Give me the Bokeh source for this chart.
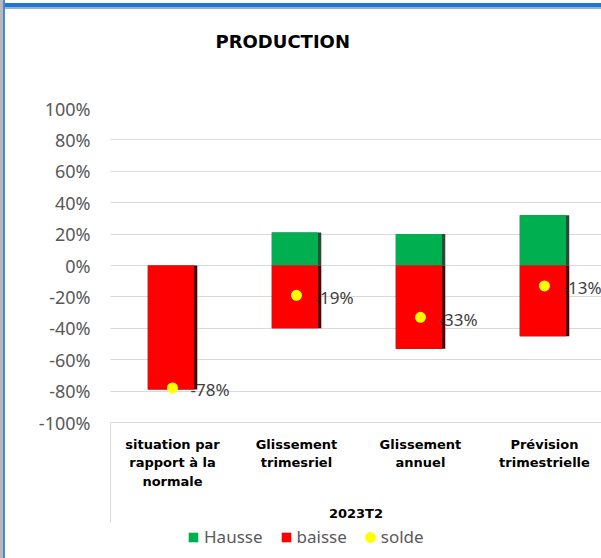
import numpy as np
from bokeh.plotting import figure
from bokeh.layouts import column
from bokeh.models import (Range1d, FixedTicker, PrintfTickFormatter, ColumnDataSource,
                          Legend, LegendItem, Title)
from bokeh.transform import dodge
from bokeh.core.properties import value
from bokeh.embed import file_html
from bokeh.resources import INLINE

# ---- data ----
categories = ["situation par\nrapport à la\nnormale", "Glissement\ntrimesriel",
              "Glissement\nannuel", "Prévision\ntrimestrielle"]
hausse = [0, 21, 20, 32]
baisse = [-79, -40, -53, -45]
solde = [-78, -19, -33, -13]
y_ticks = [-100, -80, -60, -40, -20, 0, 20, 40, 60, 80, 100]
group_label = "2023T2"
chart_title = "PRODUCTION"
series_names = ["Hausse", "baisse", "solde"]

GREEN, RED, YELLOW = "#00B050", "#FF0000", "#FFFF00"

n = len(categories)
xpos = [i + 0.5 for i in range(n)]
src = ColumnDataSource(dict(
    x=xpos, hausse=hausse, baisse=baisse, solde=solde, zero=[0] * n,
    lbl=[f"{v}%" for v in solde],
))

p = figure(width=601, height=524, output_backend="svg", toolbar_location=None,
           x_range=Range1d(0, 3.96), y_range=Range1d(-100, 100),
           min_border_left=110, min_border_right=0, min_border_top=108,
           min_border_bottom=100)
p.outline_line_color = None
p.background_fill_color = "white"
p.border_fill_color = None

# title (with a blank spacer title between it and the plot area)
p.title.text = chart_title
p.title.text_font = "DejaVu Sans"
p.title.text_font_style = "bold"
p.title.text_font_size = "18px"
p.title.text_color = "black"
p.title.align = "left"
p.title.offset = 105
p.title.standoff = 0
spacer = Title(text=" ", text_font_size="18px", standoff=35)
p.add_layout(spacer, "above")

# grid
p.xgrid.visible = False
p.ygrid.ticker = FixedTicker(ticks=y_ticks)
p.ygrid.grid_line_color = "#D9D9D9"
p.ygrid.grid_line_width = 1

# y axis
p.yaxis.ticker = FixedTicker(ticks=y_ticks)
p.yaxis.formatter = PrintfTickFormatter(format="%d%%")
p.yaxis.axis_line_color = None
p.yaxis.major_tick_line_color = None
p.yaxis.minor_tick_line_color = None
p.yaxis.major_tick_out = 0
p.yaxis.minor_tick_out = 0
p.yaxis.major_label_standoff = 20
p.yaxis.major_label_text_font = "Noto Sans"
p.yaxis.major_label_text_font_size = "18px"
p.yaxis.major_label_text_color = "#595959"

# x axis (categories)
p.xaxis.ticker = FixedTicker(ticks=xpos, minor_ticks=[0, 4])
p.xaxis.major_label_overrides = {xv: c for xv, c in zip(xpos, categories)}
p.xaxis.axis_line_color = "#D9D9D9"
p.xaxis.major_tick_line_color = None
p.xaxis.minor_tick_line_color = "#D9D9D9"
p.xaxis.minor_tick_in = 0
p.xaxis.minor_tick_out = 100
p.xaxis.major_label_standoff = -86
p.xaxis.major_label_text_font = "DejaVu Sans"
p.xaxis.major_label_text_font_style = "bold"
p.xaxis.major_label_text_font_size = "13px"
p.xaxis.major_label_text_line_height = 1.25
p.xaxis.major_label_text_color = "black"
p.xaxis.axis_label = group_label
p.xaxis.axis_label_text_font = "DejaVu Sans"
p.xaxis.axis_label_text_font_style = "bold"
p.xaxis.axis_label_text_font_size = "13px"
p.xaxis.axis_label_text_color = "black"
p.xaxis.axis_label_standoff = 14

# bars: shadow edge then main fill
p.vbar(x="x", top="hausse", bottom="zero", width=0.4, source=src,
       fill_color="#2b4a36", line_color=None)
p.vbar(x="x", top="zero", bottom="baisse", width=0.4, source=src,
       fill_color="#4a0000", line_color=None)
p.vbar(x=dodge("x", -0.012, range=p.x_range), top="hausse", bottom="zero",
       width=0.372, source=src, fill_color=GREEN, line_color=None)
p.vbar(x=dodge("x", -0.012, range=p.x_range), top="zero", bottom="baisse",
       width=0.372, source=src, fill_color=RED, line_color=None)

p.scatter(x="x", y="solde", source=src, size=5, marker="circle",
          fill_color=YELLOW, line_color=YELLOW, line_width=6)
p.text(x="x", y="solde", text="lbl", source=src, x_offset=18, y_offset=2,
       text_align="left", text_baseline="middle", text_font=value("Noto Sans"),
       text_font_size="17px", text_color="#404040")

# legend strip (separate small figure, swatch glyphs only, nothing plotted)
p2 = figure(width=601, height=34, output_backend="svg", toolbar_location=None,
            x_axis_type=None, y_axis_type=None,
            min_border_left=0, min_border_right=0, min_border_top=0, min_border_bottom=0)
p2.outline_line_color = None
p2.grid.visible = False
p2.border_fill_color = None
p2.background_fill_color = None
empty = ColumnDataSource(dict(x=np.array([np.nan]), y=np.array([np.nan]),
                              top=np.array([np.nan])))
s_h = p2.vbar(x="x", top="top", width=1, source=empty, fill_color=GREEN, line_color=None)
s_b = p2.vbar(x="x", top="top", width=1, source=empty, fill_color=RED, line_color=None)
s_s = p2.scatter(x="x", y="y", source=empty, size=5, marker="circle",
                 fill_color=YELLOW, line_color=YELLOW, line_width=6)
leg = Legend(items=[LegendItem(label=series_names[0], renderers=[s_h]),
                    LegendItem(label=series_names[1], renderers=[s_b]),
                    LegendItem(label=series_names[2], renderers=[s_s])],
             orientation="horizontal", location=(77, 10),
             glyph_width=12, glyph_height=12, label_standoff=5, spacing=17,
             padding=0, margin=0, border_line_color=None, background_fill_alpha=0,
             label_text_font="Noto Sans", label_text_font_size="17px",
             label_text_color="#595959")
p2.add_layout(leg)

layout = column(p, p2, spacing=0, styles={
    "background-color": "white",
    "box-shadow": ("inset 3px 0 0 #b8b8b8, inset 5px 0 0 #4d84d4, "
                   "inset 0 3px 0 #ffffff, inset 0 7px 0 #1f77d0, "
                   "inset 0 9px 0 #8fb3e8"),
})
open("out.html", "w").write(file_html(layout, INLINE))
